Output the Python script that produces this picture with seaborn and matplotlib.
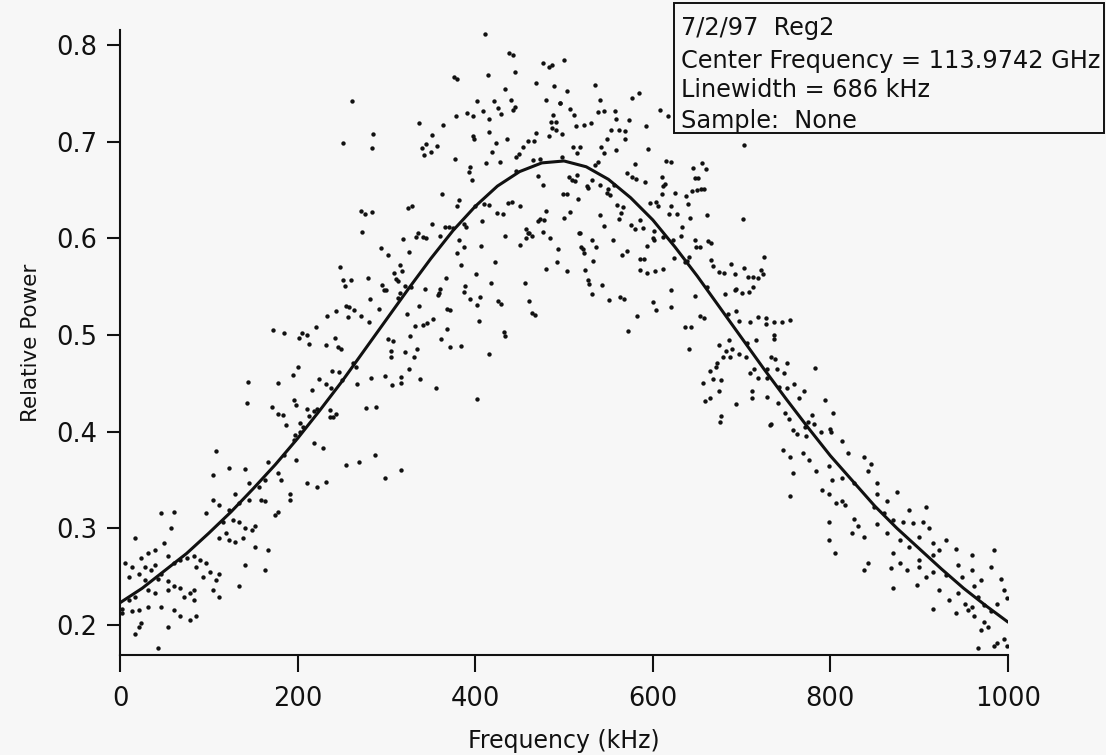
# Linewidth scan 7/2/97 (Reg2): measured relative power vs frequency + Lorentzian fit

import pandas as pd
import matplotlib
matplotlib.use('Agg')
import matplotlib.pyplot as plt
from matplotlib.patches import Rectangle
import seaborn as sns

# fitted curve, every 25 kHz
fit_freq = [0, 25, 50, 75, 100, 125, 150, 175, 200, 225, 250, 275, 300, 325, 350, 375, 400,
            425, 450, 475, 500, 525, 550, 575, 600, 625, 650, 675, 700, 725, 750, 775, 800,
            825, 850, 875, 900, 925, 950, 975, 1000]
fit_power = [0.223, 0.238, 0.256, 0.274, 0.295, 0.317, 0.341, 0.366, 0.393, 0.422, 0.452,
             0.484, 0.516, 0.548, 0.579, 0.608, 0.633, 0.654, 0.669, 0.678, 0.680, 0.674,
             0.661, 0.642, 0.619, 0.591, 0.561, 0.529, 0.497, 0.465, 0.434, 0.404, 0.375,
             0.349, 0.323, 0.300, 0.279, 0.258, 0.238, 0.220, 0.203]

# measured points (kHz, relative power), grouped by part of the scan
rise_low = [(108,0.380),(123,0.362),(141,0.361),(105,0.355),(167,0.369),(185,0.376),(198,0.371),
    (218,0.388),(229,0.383),(254,0.366),(269,0.369),(287,0.376),(298,0.352),(316,0.360),(178,0.357),
    (181,0.350),(163,0.350),(145,0.347),(156,0.343),(211,0.347),(222,0.343),(232,0.348),(192,0.336),
    (192,0.329),(130,0.336),(105,0.329),(112,0.324),(123,0.319),(97,0.316),(134,0.326),(145,0.329),
    (159,0.329),(163,0.328),(174,0.314),(178,0.317),(127,0.309),(116,0.307),(134,0.307),(141,0.300),
    (149,0.298),(152,0.302),(119,0.295),(123,0.288),(130,0.286),(138,0.290),(112,0.290),(152,0.281),
    (167,0.278),(141,0.262),(163,0.257),(61,0.317),(46,0.316),(57,0.300),(17,0.290),(39,0.278),
    (32,0.274),(24,0.269),(50,0.285),(54,0.271),(6,0.264),(13,0.260),(28,0.260),(39,0.262),(10,0.250),
    (21,0.253),(35,0.257),(46,0.253),(61,0.264),(68,0.267),(76,0.269),(83,0.271),(90,0.267),(86,0.260),
    (97,0.264),(101,0.255),(112,0.253),(108,0.247),(94,0.250),(54,0.245),(61,0.240),(68,0.238),
    (79,0.233),(83,0.236),(72,0.229),(83,0.226),(105,0.236),(112,0.229),(134,0.240),(32,0.236),
    (39,0.233),(17,0.229),(10,0.226),(2,0.217),(13,0.214),(21,0.216),(32,0.219),(46,0.219),(61,0.216),
    (68,0.209),(79,0.205),(86,0.209),(24,0.202),(17,0.191),(21,0.198),(54,0.198),(43,0.176),(2,0.212),
    (54,0.236),(43,0.248),(28,0.247)]

rise_mid = [(172,0.505),(185,0.502),(202,0.497),(205,0.502),(211,0.500),(213,0.491),(200,0.467),
    (195,0.459),(178,0.450),(144,0.451),(143,0.430),(171,0.426),(178,0.418),(184,0.417),(187,0.407),
    (196,0.433),(198,0.428),(211,0.423),(216,0.443),(203,0.409),(206,0.405),(213,0.416),(218,0.421),
    (203,0.400),(197,0.397),(196,0.391)]

rise_high = [(261,0.742),(251,0.699),(285,0.708),(284,0.693),(337,0.719),(351,0.707),(345,0.698),
    (340,0.693),(357,0.695),(350,0.689),(342,0.686),(364,0.717),(378,0.727),(391,0.730),(398,0.726),
    (402,0.742),(409,0.732),(415,0.723),(421,0.742),(426,0.735),(397,0.706),(399,0.703),(415,0.710),
    (423,0.699),(419,0.689),(412,0.678),(394,0.674),(393,0.669),(396,0.660),(377,0.682),(363,0.646),
    (382,0.640),(379,0.633),(400,0.633),(410,0.636),(416,0.634),(425,0.626),(408,0.618),(387,0.615),
    (390,0.612),(375,0.611),(370,0.612),(366,0.612),(360,0.602),(351,0.615),(329,0.633),(324,0.631),
    (271,0.628),(276,0.625),(284,0.627),(273,0.607),(319,0.599),(333,0.601),(336,0.606),(341,0.601),
    (345,0.600),(382,0.598),(387,0.591),(380,0.585),(406,0.592),(422,0.575),(384,0.572),(401,0.563),
    (418,0.554),(294,0.590),(302,0.583),(326,0.586),(315,0.572),(309,0.564),(318,0.566),(311,0.558),
    (313,0.556),(279,0.559),(248,0.570),(251,0.557),(260,0.557),(253,0.551),(295,0.552),(297,0.547),
    (300,0.547),(321,0.551),(328,0.550),(315,0.543),(313,0.538),(282,0.537),(343,0.548),(360,0.548),
    (359,0.543),(358,0.541),(367,0.559),(388,0.551),(387,0.544),(394,0.537),(405,0.539),(402,0.531),
    (426,0.535),(337,0.530),(323,0.522),(292,0.527),(280,0.513),(254,0.530),(258,0.529),(264,0.526),
    (243,0.525),(233,0.520),(271,0.520),(257,0.519),(221,0.508),(242,0.497),(232,0.490),(245,0.488),
    (249,0.485),(302,0.496),(307,0.494),(327,0.499),(332,0.509),(341,0.510),(346,0.512),(353,0.517),
    (368,0.527),(372,0.526),(368,0.506),(362,0.496),(372,0.488),(384,0.489),(416,0.480),(404,0.514),
    (305,0.483),(305,0.477),(321,0.482),(331,0.477),(334,0.486),(325,0.465),(316,0.457),(338,0.454),
    (283,0.455),(298,0.458),(267,0.449),(306,0.448),(316,0.450),(356,0.445),(402,0.434),(262,0.471),
    (266,0.467),(239,0.463),(247,0.462),(250,0.453),(224,0.454),(232,0.449),(238,0.445),(288,0.425),
    (277,0.424),(222,0.423),(236,0.422),(243,0.418),(240,0.415),(236,0.415)]

peak_top = [(411,0.811),(438,0.792),(443,0.790),(414,0.769),(445,0.772),(376,0.767),(379,0.765),
    (476,0.781),(483,0.777),(487,0.779),(469,0.761),(489,0.758),(434,0.754),(440,0.743),(480,0.743),
    (495,0.740),(445,0.736),(442,0.733),(429,0.729),(488,0.728),(485,0.720),(491,0.720),(486,0.714),
    (491,0.712),(483,0.706),(436,0.703),(459,0.701),(466,0.701),(469,0.709),(454,0.694),(428,0.679),
    (449,0.687),(446,0.684),(446,0.670),(465,0.681),(473,0.682),(471,0.664)]

peak = [(500,0.784),(503,0.752),(535,0.759),(495,0.740),(507,0.734),(511,0.728),(540,0.743),
    (538,0.731),(545,0.732),(557,0.732),(559,0.723),(573,0.722),(577,0.745),(584,0.750),(592,0.716),
    (608,0.733),(617,0.726),(514,0.716),(522,0.717),(530,0.719),(498,0.708),(510,0.694),(518,0.694),
    (515,0.688),(542,0.694),(545,0.688),(548,0.703),(553,0.712),(562,0.712),(569,0.711),(569,0.703),
    (559,0.691),(595,0.692),(615,0.680),(621,0.679),(625,0.647),(610,0.663),(611,0.654),(614,0.656),
    (610,0.646),(621,0.633),(618,0.625),(627,0.625),(604,0.638),(597,0.637),(606,0.633),(591,0.658),
    (581,0.661),(577,0.663),(571,0.668),(580,0.677),(538,0.679),(535,0.676),(498,0.684),(506,0.663),
    (509,0.660),(512,0.659),(515,0.665),(531,0.660),(526,0.654),(527,0.652),(541,0.655),(550,0.651),
    (548,0.647),(552,0.645),(556,0.655),(560,0.634),(566,0.632),(564,0.626),(562,0.620),(541,0.624),
    (545,0.613),(555,0.598),(565,0.583),(571,0.587),(576,0.614),(580,0.610),(586,0.619),(589,0.611),
    (593,0.592),(600,0.600),(601,0.598),(601,0.608),(611,0.601),(623,0.598),(624,0.580),(586,0.579),
    (590,0.579),(586,0.567),(593,0.564),(602,0.566),(611,0.568),(621,0.547),(600,0.534),(604,0.526),
    (621,0.529),(582,0.520),(572,0.504),(563,0.539),(567,0.537),(551,0.536),(543,0.552),(532,0.542),
    (528,0.553),(527,0.557),(524,0.567),(533,0.577),(521,0.589),(523,0.585),(519,0.591),(517,0.606),
    (536,0.591),(531,0.598),(500,0.621),(507,0.627),(516,0.641),(503,0.646),(499,0.646),(518,0.606),
    (503,0.566),(492,0.575),(493,0.589),(484,0.600),(476,0.607),(477,0.619),(473,0.620),(480,0.628),
    (471,0.618),(461,0.605),(464,0.602),(457,0.600),(460,0.605),(457,0.610),(450,0.593),(433,0.602),
    (431,0.625),(450,0.633),(441,0.638),(437,0.637),(476,0.655),(461,0.535),(464,0.523),(467,0.521),
    (456,0.554),(480,0.568),(429,0.532),(432,0.503),(434,0.499)]

fall_high = [(703,0.696),(655,0.678),(660,0.672),(645,0.673),(648,0.662),(651,0.662),(644,0.649),
    (650,0.650),(654,0.651),(658,0.651),(637,0.644),(640,0.635),(661,0.624),(642,0.621),(633,0.612),
    (632,0.602),(647,0.598),(649,0.591),(653,0.591),(662,0.597),(666,0.595),(641,0.581),(636,0.575),
    (639,0.577),(666,0.578),(668,0.571),(674,0.565),(680,0.564),(688,0.573),(692,0.563),(703,0.569),
    (707,0.560),(713,0.560),(719,0.559),(693,0.547),(694,0.548),(700,0.543),(708,0.544),(713,0.550),
    (681,0.542),(661,0.550),(648,0.540),(702,0.620),(694,0.525),(685,0.522),(653,0.520),(658,0.518)]

fall_mid = [(725,0.581),(722,0.567),(724,0.563),(727,0.518),(727,0.511),(737,0.513),(745,0.513),
    (755,0.515),(736,0.500),(736,0.496),(729,0.465),(733,0.477),(738,0.475),(740,0.465),(751,0.471),
    (748,0.461),(729,0.456),(742,0.446),(751,0.445),(759,0.449),(765,0.435),(770,0.442),(741,0.430),
    (729,0.436),(783,0.466),(794,0.433),(803,0.419),(779,0.417),(775,0.410),(771,0.405),(781,0.408),
    (789,0.400),(800,0.403),(801,0.400),(758,0.402),(762,0.398),(772,0.396),(749,0.419),(753,0.413),
    (732,0.407),(733,0.408),(719,0.519),(697,0.514),(710,0.513),(716,0.495),(706,0.492),(686,0.495),
    (674,0.490),(689,0.486),(682,0.483),(679,0.477),(697,0.480),(705,0.477),(687,0.477),(672,0.471),
    (671,0.467),(664,0.463),(657,0.450),(668,0.454),(677,0.453),(675,0.442),(664,0.435),(659,0.432),
    (694,0.429),(709,0.461),(714,0.465),(719,0.456),(712,0.435),(712,0.442),(677,0.416),(676,0.410),
    (641,0.486),(636,0.508),(643,0.508)]

fall_low = [(747,0.381),(754,0.374),(769,0.378),(776,0.371),(758,0.357),(784,0.359),(798,0.364),
    (813,0.390),(820,0.378),(838,0.374),(846,0.367),(842,0.359),(802,0.350),(813,0.352),(827,0.347),
    (791,0.340),(798,0.335),(813,0.328),(806,0.326),(816,0.324),(754,0.333),(853,0.347),(875,0.338),
    (853,0.335),(864,0.328),(849,0.322),(889,0.319),(908,0.322),(860,0.316),(871,0.309),(827,0.310),
    (831,0.302),(824,0.295),(838,0.291),(798,0.307),(798,0.288),(853,0.304),(882,0.307),(893,0.305),
    (904,0.307),(911,0.300),(864,0.295),(878,0.288),(889,0.281),(900,0.291),(915,0.285),(930,0.288),
    (941,0.279),(915,0.272),(922,0.278),(871,0.274),(878,0.264),(868,0.259),(886,0.257),(842,0.264),
    (838,0.257),(900,0.260),(915,0.255),(908,0.250),(930,0.252),(944,0.262),(959,0.272),(959,0.257),
    (948,0.250),(962,0.240),(970,0.247),(984,0.278),(981,0.260),(992,0.248),(995,0.236),(999,0.228),
    (988,0.222),(981,0.214),(973,0.221),(966,0.229),(944,0.233),(952,0.222),(955,0.215),(941,0.212),
    (922,0.236),(915,0.217),(897,0.241),(871,0.238),(962,0.209),(973,0.203),(970,0.195),(977,0.198),
    (995,0.186),(988,0.181),(984,0.178),(966,0.176),(999,0.178),(959,0.219),(933,0.226),(900,0.267),
    (805,0.274)]

info_lines = ['7/2/97  Reg2', 'Center Frequency = 113.9742 GHz', 'Linewidth = 686 kHz', 'Sample:  None']

points = pd.DataFrame(rise_low + rise_mid + rise_high + peak_top + peak + fall_high + fall_mid + fall_low,
                      columns=['freq', 'power'])

sns.set_theme(style='ticks')
plt.rcParams['font.family'] = ['DejaVu Sans']
bg = '#f7f7f7'
ink = '#111111'

fig = plt.figure(figsize=(11.06, 7.55), dpi=100, facecolor=bg)
ax = fig.add_axes([0.1085, 0.1325, 0.8029, 0.8278], facecolor=bg)

sns.scatterplot(data=points, x='freq', y='power', s=10, color=ink, linewidth=0, ax=ax)
sns.lineplot(x=fit_freq, y=fit_power, color=ink, linewidth=2.2, ax=ax)

ax.set_xlim(0, 1000)
ax.set_ylim(0.169, 0.8155)
ax.set_xticks([0, 200, 400, 600, 800, 1000])
ax.set_yticks([0.2, 0.3, 0.4, 0.5, 0.6, 0.7, 0.8])
ax.set_yticklabels(['0.2', '0.3', '0.4', '0.5', '0.6', '0.7', '0.8'])
sns.despine(ax=ax)
for side in ['left', 'bottom']:
    ax.spines[side].set_color(ink)
    ax.spines[side].set_linewidth(1.5)
ax.tick_params(axis='x', length=12.5, width=1.5, pad=10, labelsize=18.5, colors=ink)
ax.tick_params(axis='y', length=9.5, width=1.5, pad=7, labelsize=18.5, colors=ink)

ax.set_xlabel('Frequency (kHz)', fontsize=17, color=ink, labelpad=12)
ax.set_ylabel('Relative Power', fontsize=15.5, color=ink, labelpad=11)

# info box in the upper right corner
fig.add_artist(Rectangle((674 / 1106, 1 - 133 / 755), 430 / 1106, 130 / 755,
                         transform=fig.transFigure, facecolor=bg, edgecolor=ink,
                         linewidth=1.4, zorder=10))
for line, base in zip(info_lines, [35, 68, 97, 128]):
    fig.text(681 / 1106, 1 - base / 755, line, fontsize=17.3, color=ink,
             va='baseline', ha='left', zorder=11)

plt.savefig('out.png', dpi=100, facecolor=bg)
